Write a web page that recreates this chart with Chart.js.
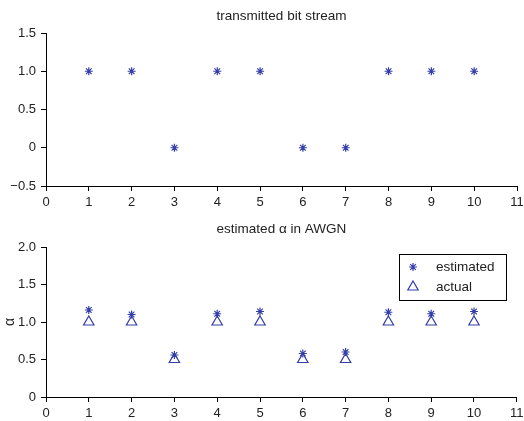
<!DOCTYPE html>
<html>
<head>
<meta charset="utf-8">
<script src="https://cdn.jsdelivr.net/npm/chart.js@4"></script>
<style>
  body { margin: 0; background: #fff; }
  #wrap { position: relative; width: 524px; height: 421px; }
  canvas { position: absolute; left: 0; }
</style>
</head>
<body>
<div id="wrap">
  <canvas id="topChart" width="524" height="210" style="top:0"></canvas>
  <canvas id="bottomChart" width="524" height="211" style="top:210px"></canvas>
</div>
<script>
// data
const symbolIndex = [1, 2, 3, 4, 5, 6, 7, 8, 9, 10];
const bitStream = [1, 1, 0, 1, 1, 0, 0, 1, 1, 1];
const alphaEstimated = [1.16, 1.10, 0.56, 1.11, 1.14, 0.58, 0.60, 1.13, 1.11, 1.14];
const alphaActual = [1, 1, 0.5, 1, 1, 0.5, 0.5, 1, 1, 1];
const xTicks = [0, 1, 2, 3, 4, 5, 6, 7, 8, 9, 10, 11];
const topYTicks = [-0.5, 0, 0.5, 1.0, 1.5];
const bottomYTicks = [0, 0.5, 1.0, 1.5, 2.0];

const markColor = 'rgb(52, 62, 168)';
const fontFamily = '"Liberation Sans", Arial, sans-serif';

function toPoints(xs, ys) {
    return xs.map((x, i) => ({ x: x, y: ys[i] }));
}

function tickLabel(v) {
    if (v === 0) return '0';
    let s = v.toFixed(1);
    return s.replace('-', '\u2212');
}

//axes with only the left and bottom lines, ticks pointing out
function makeScales(yTicks, yTitle) {
    return {
        x: {
            type: 'linear',
            min: 0,
            max: 11,
            afterBuildTicks: (scale) => { scale.ticks = xTicks.map(v => ({ value: v })); },
            afterFit: (scale) => {
                scale.height = 24;
                scale.paddingLeft = 0;
                scale.paddingRight = 0;
            },
            border: { display: true, color: '#000', width: 1 },
            grid: { drawOnChartArea: false, drawTicks: true, tickLength: 5, color: '#000' },
            ticks: { color: '#222', font: { family: fontFamily, size: 13 }, padding: 4, maxRotation: 0, autoSkip: false }
        },
        y: {
            type: 'linear',
            min: yTicks[0],
            max: yTicks[yTicks.length - 1],
            afterBuildTicks: (scale) => { scale.ticks = yTicks.map(v => ({ value: v })); },
            afterFit: (scale) => { scale.width = 46; },
            border: { display: true, color: '#000', width: 1 },
            grid: { drawOnChartArea: false, drawTicks: true, tickLength: 5, color: '#000' },
            ticks: { color: '#222', font: { family: fontFamily, size: 13 }, padding: 5, autoSkip: false, callback: tickLabel },
            title: {
                display: !!yTitle,
                text: yTitle || '',
                color: '#222',
                font: { family: fontFamily, size: 14 },
                padding: { top: 2, bottom: 0 }
            }
        }
    };
}

//title centred over the plot area
const plotTitle = {
    id: 'plotTitle',
    afterDraw(chart, args, opts) {
        const ctx = chart.ctx;
        const area = chart.chartArea;
        ctx.save();
        ctx.font = '13.5px ' + fontFamily;
        ctx.fillStyle = '#222';
        ctx.textAlign = 'center';
        ctx.textBaseline = 'middle';
        ctx.fillText(opts.text, (area.left + area.right) / 2, opts.y);
        ctx.restore();
    }
};

//boxed legend in the upper right corner of the lower plot
const boxLegend = {
    id: 'boxLegend',
    afterDraw(chart, args, opts) {
        if (!opts.show) return;
        const ctx = chart.ctx;
        ctx.save();
        ctx.fillStyle = '#fff';
        ctx.fillRect(399, 44, 107, 46);
        ctx.strokeStyle = '#000';
        ctx.lineWidth = 1;
        ctx.strokeRect(399.5, 44.5, 107, 46);
        ctx.font = '13.5px ' + fontFamily;
        ctx.textBaseline = 'middle';
        chart.data.datasets.forEach((ds, i) => {
            const y = 57 + i * 20;
            ctx.strokeStyle = ds.borderColor;
            ctx.fillStyle = ds.backgroundColor;
            ctx.lineWidth = ds.pointBorderWidth;
            Chart.helpers.drawPoint(ctx, {
                pointStyle: ds.pointStyle,
                radius: ds.pointRadius,
                borderWidth: ds.pointBorderWidth
            }, 413, y);
            ctx.fillStyle = '#222';
            ctx.fillText(ds.label, 436, y);
        });
        ctx.restore();
    }
};

function starDataset(label, data) {
    return {
        label: label,
        data: data,
        pointStyle: 'star',
        pointRadius: 4,
        pointBorderWidth: 1.2,
        borderColor: markColor,
        backgroundColor: markColor,
        showLine: false
    };
}

Chart.register(plotTitle, boxLegend);

new Chart(document.getElementById('topChart'), {
    type: 'scatter',
    data: {
        datasets: [starDataset('bits', toPoints(symbolIndex, bitStream))]
    },
    options: {
        responsive: false,
        animation: false,
        layout: { padding: { top: 33, right: 7, left: 0, bottom: 0 } },
        plugins: {
            legend: { display: false },
            tooltip: { enabled: false },
            plotTitle: { text: 'transmitted bit stream', y: 16 },
            boxLegend: { show: false }
        },
        scales: makeScales(topYTicks, null)
    }
});

let actualSet = {
    label: 'actual',
    data: toPoints(symbolIndex, alphaActual),
    pointStyle: 'triangle',
    pointRadius: 6,
    pointBorderWidth: 1.2,
    borderColor: markColor,
    backgroundColor: 'rgba(0,0,0,0)',
    showLine: false
};

new Chart(document.getElementById('bottomChart'), {
    type: 'scatter',
    data: {
        datasets: [starDataset('estimated', toPoints(symbolIndex, alphaEstimated)), actualSet]
    },
    options: {
        responsive: false,
        animation: false,
        layout: { padding: { top: 37, right: 7, left: 0, bottom: 0 } },
        plugins: {
            legend: { display: false },
            tooltip: { enabled: false },
            plotTitle: { text: 'estimated \u03b1 in AWGN', y: 19 },
            boxLegend: { show: true }
        },
        scales: makeScales(bottomYTicks, '\u03b1')
    }
});
</script>
</body>
</html>
